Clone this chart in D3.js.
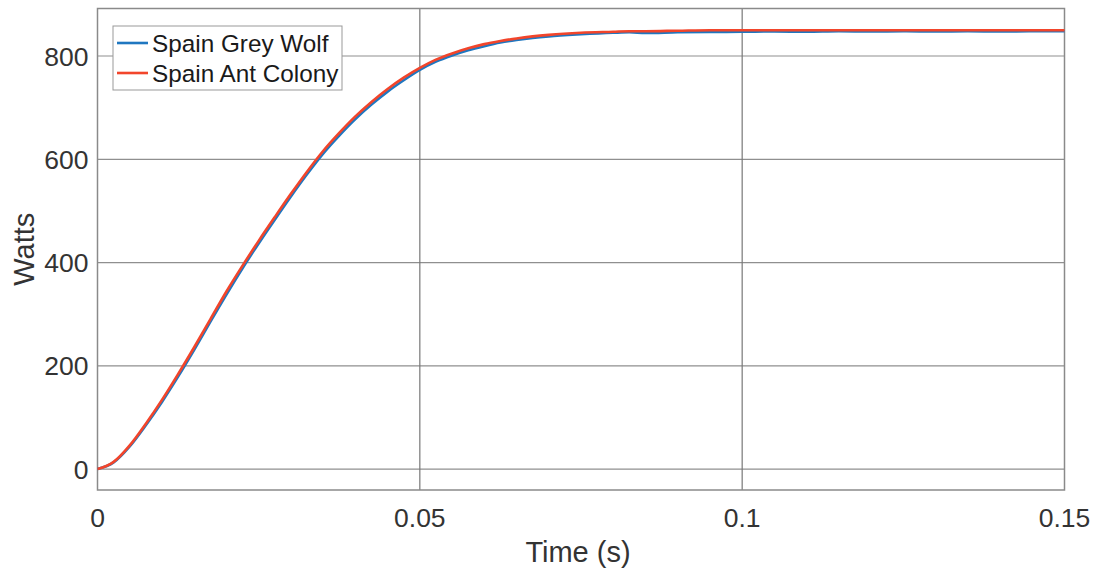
<!DOCTYPE html>
<html>
<head>
<meta charset="utf-8">
<script src="https://cdn.jsdelivr.net/npm/d3@7"></script>
<style>
  body { margin: 0; background: #fff; }
  svg { display: block; font-family: "Liberation Sans", Arial, sans-serif; }
</style>
</head>
<body>
<div id="chart"></div>
<script>
// time samples (s)
const time = [0, 0.0025, 0.005, 0.0075, 0.01, 0.0125, 0.015, 0.0175, 0.02, 0.0225,
  0.025, 0.0275, 0.03, 0.0325, 0.035, 0.0375, 0.04, 0.0425, 0.045, 0.0475,
  0.05, 0.0525, 0.055, 0.0575, 0.06, 0.0625, 0.065, 0.0675, 0.07, 0.075,
  0.08, 0.0825, 0.085, 0.09, 0.095, 0.1, 0.105, 0.11, 0.115, 0.12, 0.125,
  0.13, 0.135, 0.14, 0.145, 0.15];

// power readings (W)
const greyWolf = [0, 13, 44, 85, 130, 179, 231, 285, 338, 389,
  437, 483, 528, 571, 611, 646, 678, 706, 731, 753,
  773, 789, 801, 811, 819, 826, 831, 835, 838, 842,
  845, 846, 844.5, 846, 846.5, 847, 847.5, 847, 848, 847.5, 848,
  847.5, 848, 847.5, 848, 848];

const antColony = [0, 14, 46, 88, 134, 184, 236, 290, 344, 394,
  442, 488, 533, 576, 616, 651, 683, 711, 736, 758,
  777, 793, 805, 815, 823, 829, 834, 838, 841, 845,
  847, 848, 848, 849, 850, 850, 850, 850, 850, 850, 850,
  850, 850, 850, 850, 850];

const seriesNames = ["Spain Grey Wolf", "Spain Ant Colony"];
const seriesColors = ["#1f77c0", "#f2452b"];
const xTicks = [0, 0.05, 0.1, 0.15];
const yTicks = [0, 200, 400, 600, 800];

let margin = { top: 8.5, left: 97.5, right: 31.5, bottom: 84 },
  W = 1096, H = 574,
  width = W - margin.left - margin.right,
  height = H - margin.top - margin.bottom;

let svg = d3.select('#chart')
  .append('svg')
  .attr('width', W)
  .attr('height', H);

const x = d3.scaleLinear().domain([0, 0.15]).range([0, width]);
const y = d3.scaleLinear().domain([-40.5, 892]).range([height, 0]);

const g = svg.append('g')
  .attr('transform', `translate(${margin.left},${margin.top})`);

// grid
g.append('g')
  .selectAll('line')
  .data(yTicks)
  .join('line')
  .attr('x1', 0).attr('x2', width)
  .attr('y1', d => y(d)).attr('y2', d => y(d))
  .attr('stroke', '#8f8f8f')
  .attr('stroke-width', 1.2);

g.append('g')
  .selectAll('line')
  .data(xTicks.slice(1, -1))
  .join('line')
  .attr('x1', d => x(d)).attr('x2', d => x(d))
  .attr('y1', 0).attr('y2', height)
  .attr('stroke', '#777')
  .attr('stroke-width', 1.2);

// box
g.append('rect')
  .attr('width', width).attr('height', height)
  .attr('fill', 'none')
  .attr('stroke', '#8a8a8a')
  .attr('stroke-width', 1.5);

// tick labels
g.append('g')
  .selectAll('text')
  .data(yTicks)
  .join('text')
  .attr('x', -9)
  .attr('y', d => y(d))
  .attr('dy', '0.36em')
  .attr('text-anchor', 'end')
  .attr('font-size', 26.5)
  .attr('fill', '#333')
  .text(d => d);

g.append('g')
  .selectAll('text')
  .data(xTicks)
  .join('text')
  .attr('x', d => x(d))
  .attr('y', height + 37)
  .attr('text-anchor', 'middle')
  .attr('font-size', 26.5)
  .attr('fill', '#333')
  .text(d => d);

// axis titles
svg.append('text')
  .attr('transform', `translate(34,${margin.top + height / 2}) rotate(-90)`)
  .attr('text-anchor', 'middle')
  .attr('font-size', 29)
  .attr('fill', '#333')
  .text('Watts');

svg.append('text')
  .attr('x', margin.left + width / 2 - 3)
  .attr('y', 562)
  .attr('text-anchor', 'middle')
  .attr('font-size', 29)
  .attr('fill', '#333')
  .text('Time (s)');

// lines
const line = d3.line()
  .x((d, i) => x(time[i]))
  .y(d => y(d))
  .curve(d3.curveMonotoneX);

[greyWolf, antColony].forEach((s, i) => {
  g.append('path')
    .datum(s)
    .attr('fill', 'none')
    .attr('stroke', seriesColors[i])
    .attr('stroke-width', 2.6)
    .attr('d', line);
});

// legend
const lg = svg.append('g').attr('transform', 'translate(113,26)');
lg.append('rect')
  .attr('width', 229).attr('height', 64)
  .attr('fill', '#fff')
  .attr('stroke', '#999')
  .attr('stroke-width', 1);

seriesNames.forEach((n, i) => {
  const yy = 17 + i * 30;
  lg.append('line')
    .attr('x1', 4).attr('x2', 35)
    .attr('y1', yy).attr('y2', yy)
    .attr('stroke', seriesColors[i])
    .attr('stroke-width', 2.6);
  lg.append('text')
    .attr('x', 39)
    .attr('y', yy)
    .attr('dy', '0.35em')
    .attr('font-size', 24.3)
    .attr('fill', '#1a1a1a')
    .text(n);
});
</script>
</body>
</html>
